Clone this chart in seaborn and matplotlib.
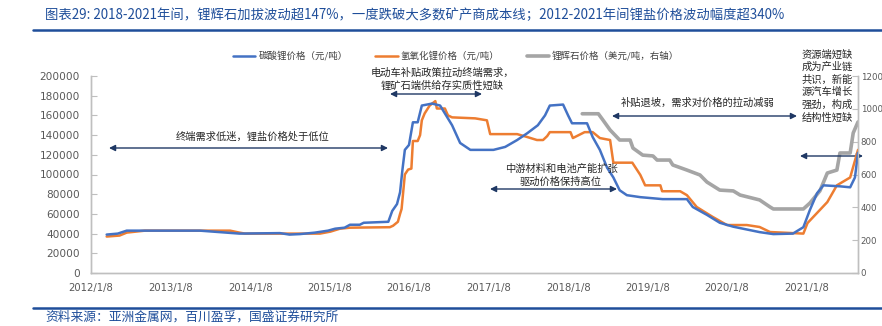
import matplotlib
matplotlib.use("Agg")
import matplotlib.pyplot as plt
from matplotlib.lines import Line2D
import pandas as pd
import seaborn as sns

# ---------------- data ----------------
li2co3_dates = ["2012-03-20", "2012-05-10", "2012-06-20", "2013-05-22", "2013-11-20", "2014-05-25",
                "2014-07-08", "2014-08-25", "2014-11-02", "2015-01-01", "2015-02-03", "2015-03-18",
                "2015-04-12", "2015-05-27", "2015-06-14", "2015-10-05", "2015-10-23", "2015-11-14",
                "2015-11-28", "2015-12-09", "2015-12-20", "2016-01-08", "2016-01-26", "2016-02-17",
                "2016-03-07", "2016-04-23", "2016-05-30", "2016-06-21", "2016-07-24", "2016-08-30",
                "2016-10-16", "2017-01-30", "2017-03-25", "2017-05-19", "2017-07-05", "2017-08-22",
                "2017-09-24", "2017-10-16", "2017-12-16", "2018-01-08", "2018-01-26", "2018-04-05",
                "2018-05-01", "2018-06-03", "2018-07-06", "2018-08-04", "2018-09-02", "2018-10-05",
                "2018-12-06", "2019-03-18", "2019-07-08", "2019-08-04", "2019-10-08", "2019-12-06",
                "2020-02-06", "2020-06-06", "2020-08-08", "2020-11-06", "2020-12-24", "2021-01-23",
                "2021-02-25", "2021-03-26", "2021-06-10", "2021-07-27", "2021-08-18", "2021-09-01"]
li2co3_values = [39000, 40000, 43000, 43000, 40000, 40500,
                 39000, 39500, 41000, 43000, 45000, 46000,
                 49000, 49000, 51000, 52000, 63000, 70000,
                 82000, 105000, 125000, 130000, 153000, 153000,
                 170000, 172000, 170000, 162000, 150000, 132000,
                 125000, 125000, 128000, 135000, 142000, 150000,
                 160000, 170000, 171000, 160000, 152000, 152000,
                 138000, 125000, 107000, 97000, 84000, 79000,
                 77000, 75000, 75000, 67000, 59000, 51000,
                 47000, 41500, 39500, 40000, 46500, 64000,
                 81000, 89000, 88000, 87000, 97000, 122000]

lioh_dates = ["2012-03-20", "2012-05-18", "2012-06-20", "2012-09-12", "2013-10-08", "2013-11-20",
              "2013-12-16", "2014-11-25", "2015-01-12", "2015-02-25", "2015-04-12", "2015-10-12",
              "2015-10-27", "2015-11-18", "2015-11-28", "2015-12-05", "2015-12-20", "2016-01-04",
              "2016-01-19", "2016-01-26", "2016-02-17", "2016-02-28", "2016-03-07", "2016-03-20",
              "2016-04-12", "2016-05-08", "2016-05-15", "2016-06-21", "2016-07-05", "2016-07-24",
              "2016-11-07", "2016-12-31", "2017-01-15", "2017-05-19", "2017-07-05", "2017-08-18",
              "2017-09-15", "2017-10-04", "2017-10-16", "2018-01-19", "2018-01-30", "2018-03-25",
              "2018-05-01", "2018-06-03", "2018-07-20", "2018-08-04", "2018-10-30", "2018-12-06",
              "2018-12-28", "2019-03-08", "2019-03-16", "2019-06-07", "2019-07-08", "2019-08-22",
              "2019-11-03", "2020-01-08", "2020-04-08", "2020-06-06", "2020-07-24", "2020-12-24",
              "2021-01-12", "2021-02-25", "2021-04-13", "2021-05-27", "2021-07-27", "2021-09-01"]
lioh_values = [37000, 38000, 41000, 43000, 43000, 41000,
               40000, 40000, 42000, 45000, 46000, 46500,
               48000, 52000, 60000, 65000, 100000, 105000,
               106000, 134000, 134000, 140000, 155000, 162000,
               170000, 174500, 167000, 167000, 160000, 158000,
               157000, 155000, 141000, 141000, 138000, 135000,
               135000, 139000, 143000, 143000, 137000, 143000,
               143000, 137000, 135000, 112000, 112000, 99500,
               89000, 89000, 83000, 83000, 79000, 67000,
               57000, 48700, 48700, 46700, 41600, 40000,
               50700, 61000, 72000, 89000, 97000, 125000]

spod_dates = ["2018-03-14", "2018-05-27", "2018-06-17", "2018-07-20", "2018-09-02", "2018-10-20",
              "2018-11-02", "2018-12-17", "2019-02-02", "2019-02-21", "2019-04-20", "2019-05-04",
              "2019-07-08", "2019-09-06", "2019-10-08", "2019-12-06", "2020-02-06", "2020-03-08",
              "2020-06-06", "2020-07-24", "2020-08-08", "2020-12-24", "2021-01-23", "2021-03-10",
              "2021-04-13", "2021-05-27", "2021-06-10", "2021-07-27", "2021-08-10", "2021-09-01"]
spod_values = [970, 970, 932, 871, 810, 810,
               761, 718, 713, 688, 688, 658,
               627, 597, 554, 505, 500, 475,
               445, 402, 390, 390, 426, 500,
               609, 627, 731, 731, 853, 920]

series_names = ["碳酸锂价格（元/吨）", "氢氧化锂价格（元/吨）", "锂辉石价格（美元/吨，右轴）"]
x_tick_dates = ["2012-01-08", "2013-01-08", "2014-01-08", "2015-01-08", "2016-01-08",
                "2017-01-08", "2018-01-08", "2019-01-08", "2020-01-08", "2021-01-08"]
x_tick_labels = ["2012/1/8", "2013/1/8", "2014/1/8", "2015/1/8", "2016/1/8",
                 "2017/1/8", "2018/1/8", "2019/1/8", "2020/1/8", "2021/1/8"]
left_ticks = [0, 20000, 40000, 60000, 80000, 100000, 120000, 140000, 160000, 180000, 200000]
right_ticks = [0, 200, 400, 600, 800, 1000, 1200]

title_text = "图表29: 2018-2021年间，锂辉石加拔波动超147%，一度跌破大多数矿产商成本线；2012-2021年间锂盐价格波动幅度超340%"
source_text = "资料来源：亚洲金属网，百川盈孚，国盛证券研究所"

# ---------------- style ----------------
sns.set_theme(style="white")
plt.rcParams["font.family"] = ["Noto Sans CJK SC", "DejaVu Sans"]

W, H = 882, 326
BLUE = "#4472C4"
ORANGE = "#ED7D31"
GRAY = "#A5A5A5"
NAVY = "#1F3864"
HEAD = "#1F4E9A"
TICKC = "#595959"
SPINE = "#BFBFBF"


def fp(x, y):
    return (x / W, 1 - y / H)


fig = plt.figure(figsize=(W / 100, H / 100), dpi=100)
ax = fig.add_axes([91 / W, 1 - 273 / H, (858 - 91) / W, (273 - 76) / H])
ax2 = ax.twinx()

df1 = pd.DataFrame({"date": pd.to_datetime(li2co3_dates), "value": li2co3_values})
df2 = pd.DataFrame({"date": pd.to_datetime(lioh_dates), "value": lioh_values})
df3 = pd.DataFrame({"date": pd.to_datetime(spod_dates), "value": spod_values})

sns.lineplot(data=df3, x="date", y="value", ax=ax2, color=GRAY, lw=2.6, estimator=None, sort=False, legend=False)
sns.lineplot(data=df2, x="date", y="value", ax=ax, color=ORANGE, lw=1.8, estimator=None, sort=False, legend=False)
sns.lineplot(data=df1, x="date", y="value", ax=ax, color=BLUE, lw=1.8, estimator=None, sort=False, legend=False)

ax.set_zorder(ax2.get_zorder() + 1)
ax.patch.set_visible(False)

ax.set_xlim(pd.Timestamp("2012-01-08"), pd.Timestamp("2021-09-01"))
ax.set_ylim(0, 200000)
ax2.set_ylim(0, 1200)
ax.set_xticks(pd.to_datetime(x_tick_dates))
ax.set_xticklabels(x_tick_labels)
ax.set_yticks(left_ticks)
ax.set_yticklabels([str(v) for v in left_ticks])
ax2.set_yticks(right_ticks)
ax2.set_yticklabels([str(v) for v in right_ticks])
ax.set_xlabel("")
ax.set_ylabel("")
ax2.set_ylabel("")

for a in (ax, ax2):
    a.grid(False)
    for s in a.spines.values():
        s.set_color(SPINE)
        s.set_linewidth(1.0)
    a.spines["top"].set_visible(False)

ax.tick_params(axis="x", direction="in", length=4, width=0.8, color=SPINE, labelsize=7.2,
               labelcolor=TICKC, pad=7)
ax.tick_params(axis="y", direction="in", length=4, width=0.8, color=SPINE, labelsize=7.6,
               labelcolor=TICKC, pad=8, left=True)
ax2.tick_params(axis="y", direction="in", length=4, width=0.8, color=SPINE, labelsize=6.2,
                labelcolor=TICKC, pad=2, right=True)
for lab in ax.get_xticklabels() + ax.get_yticklabels() + ax2.get_yticklabels():
    lab.set_fontfamily(["DejaVu Sans"])

# ---------------- header / footer ----------------
fig.text(*fp(45, 15), title_text, fontsize=9.6, color=HEAD, ha="left", va="center", style="italic")
fig.add_artist(Line2D([33 / W, 1], [1 - 29.5 / H] * 2, color=HEAD, lw=1.8))
fig.add_artist(Line2D([33 / W, 1], [1 - 308 / H] * 2, color=HEAD, lw=1.8))
fig.text(*fp(45, 317), source_text, fontsize=9.2, color=HEAD, ha="left", va="center", style="italic")

# ---------------- legend ----------------
handles = [Line2D([], [], color=BLUE, lw=1.8),
           Line2D([], [], color=ORANGE, lw=1.8),
           Line2D([], [], color=GRAY, lw=2.6)]
fig.legend(handles, series_names, loc="center", bbox_to_anchor=fp(456, 56), ncol=3, frameon=False,
           fontsize=6.8, handlelength=2.4, handletextpad=0.3, columnspacing=2.9,
           labelcolor="#404040")

# ---------------- annotations ----------------
def darrow(x1, x2, y):
    fig.add_artist(matplotlib.patches.FancyArrowPatch(
        fp(x1, y), fp(x2, y), transform=fig.transFigure, arrowstyle="<|-|>",
        mutation_scale=9, color=NAVY, lw=1.0, shrinkA=0, shrinkB=0))

ann_kw = dict(fontsize=7.4, color="#262626", ha="center", va="center")
fig.text(*fp(253, 137), "终端需求低迷，锂盐价格处于低位", **ann_kw)
darrow(109, 388, 148)
fig.text(*fp(442, 79), "电动车补贴政策拉动终端需求，\n锂矿石端供给存实质性短缺", linespacing=1.35, **ann_kw)
darrow(390, 482, 94)
fig.text(*fp(698, 103), "补贴退坡，需求对价格的拉动减弱", **ann_kw)
darrow(612, 797, 116)
fig.text(*fp(561, 175), "中游材料和电池产能扩张\n驱动价格保持高位", linespacing=1.35, **ann_kw)
darrow(490, 617, 189)
fig.text(*fp(827, 86), "资源端短缺\n成为产业链\n共识，新能\n源汽车增长\n强劲，构成\n结构性短缺",
         linespacing=1.3, **ann_kw)
darrow(800, 863, 156)

fig.savefig("out.png", dpi=100)
